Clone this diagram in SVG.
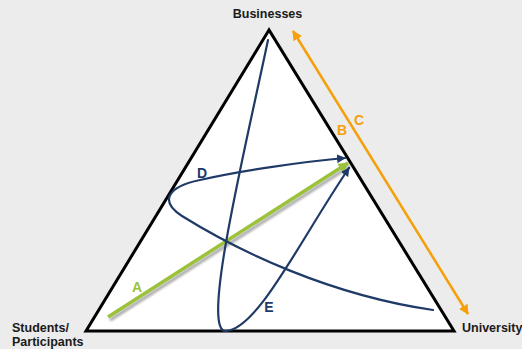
<svg xmlns="http://www.w3.org/2000/svg" width="522" height="349" viewBox="0 0 522 349">
<style>
.lbl{font-family:"Liberation Sans",Arial,sans-serif;font-weight:bold;font-size:12.5px;fill:#1a1a1a}
.let{font-family:"Liberation Sans",Arial,sans-serif;font-weight:bold;font-size:14px}
.navy{fill:none;stroke:#1f3a66;stroke-width:2.2;stroke-linecap:round}
</style>
<defs>
<marker id="an" viewBox="0 0 10 10" refX="9" refY="5" markerWidth="4" markerHeight="4" orient="auto" markerUnits="strokeWidth"><path d="M0,0 L10,5 L0,10 z" fill="#1f3a66"/></marker>
<marker id="ao" viewBox="0 0 10 10" refX="9" refY="5" markerWidth="4" markerHeight="4" orient="auto-start-reverse" markerUnits="strokeWidth"><path d="M0,0 L10,5 L0,10 z" fill="#f5a00a"/></marker>
<marker id="ag" viewBox="0 0 10 10" refX="9" refY="5" markerWidth="3" markerHeight="3" orient="auto" markerUnits="strokeWidth"><path d="M0,0 L10,5 L0,10 z" fill="#9bc23a"/></marker>
<filter id="sh" x="-10%" y="-10%" width="120%" height="120%"><feGaussianBlur stdDeviation="1"/></filter>
</defs>
<rect width="522" height="349" fill="#ececec"/>
<g id="triangle"><polygon points="269,30 86,331 454,331" fill="#ffffff" stroke="#000" stroke-width="3" stroke-linejoin="miter"/></g>
<g id="labels">
<text class="lbl" x="267.5" y="18" text-anchor="middle">Businesses</text>
<text class="lbl" x="12" y="332">Students/</text>
<text class="lbl" x="12" y="346">Participants</text>
<text class="lbl" x="462" y="332">University</text>
</g>
<g id="connectors">
<line x1="110" y1="320" x2="350" y2="166" stroke="#9a9a9a" stroke-width="3.5" filter="url(#sh)" opacity="0.8"/>
<line x1="108" y1="317" x2="348" y2="163" stroke="#9bc23a" stroke-width="3.5" marker-end="url(#ag)"/>
<path class="navy" d="M268,40 C245,150 200,333 226,331 C258,329 300,240 349,168" marker-end="url(#an)"/>
<path class="navy" d="M433,310 C330,295 240,252 182,216 C160,202 166,187 200,180 C240,171 300,162 345,158" marker-end="url(#an)"/>
<line x1="293" y1="31" x2="468" y2="314" stroke="#f5a00a" stroke-width="2.5" marker-start="url(#ao)" marker-end="url(#ao)"/>
</g>
<g id="letters">
<text class="let" x="137" y="292" text-anchor="middle" fill="#9bc23a">A</text>
<text class="let" x="342" y="135" text-anchor="middle" fill="#f5a00a">B</text>
<text class="let" x="359" y="125" text-anchor="middle" fill="#f5a00a">C</text>
<text class="let" x="202" y="178" text-anchor="middle" fill="#1f3a66">D</text>
<text class="let" x="269" y="312" text-anchor="middle" fill="#1f3a66">E</text>
</g>
</svg>
